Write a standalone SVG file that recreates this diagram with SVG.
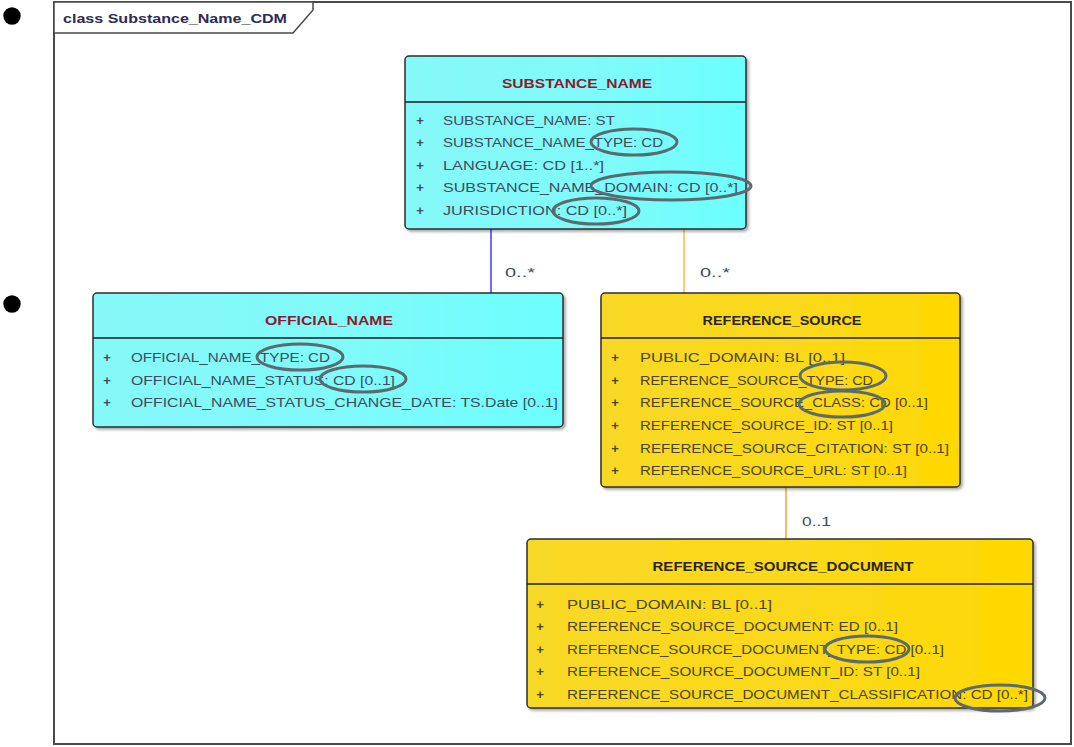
<svg xmlns="http://www.w3.org/2000/svg" width="1074" height="747" viewBox="0 0 1074 747">
  <defs>
    <linearGradient id="cyanFill" x1="0" y1="0" x2="1" y2="0">
      <stop offset="0" stop-color="#86f8f8"/>
      <stop offset="0.55" stop-color="#80fafa"/>
      <stop offset="1" stop-color="#6cfefe"/>
    </linearGradient>
    <linearGradient id="goldFill" x1="0" y1="0" x2="1" y2="0">
      <stop offset="0" stop-color="#f8d826"/>
      <stop offset="0.55" stop-color="#fad91a"/>
      <stop offset="1" stop-color="#ffd800"/>
    </linearGradient>
    <filter id="shadow" x="-5%" y="-5%" width="112%" height="115%">
      <feDropShadow dx="2" dy="2" stdDeviation="1.6" flood-color="#000" flood-opacity="0.35"/>
    </filter>
  </defs>
  <style>
    .frame { fill: none; stroke: #4a4a4a; stroke-width: 2; }
    .tab { fill: #ffffff; stroke: #4a4a4a; stroke-width: 1.5; }
    .tabtext { font-family: "Liberation Sans", Arial, sans-serif; font-size: 13px; fill: #2b2b55; font-weight: bold; }
    .box { stroke: #2e2e2e; stroke-width: 1.5; filter: url(#shadow); }
    .cyan { fill: url(#cyanFill); }
    .gold { fill: url(#goldFill); }
    .sep { stroke: #1e1e1e; stroke-width: 1.5; }
    .title { font-family: "Liberation Sans", Arial, sans-serif; font-size: 13px; font-weight: bold; text-anchor: middle; }
    .title.c { fill: #8a1c30; }
    .title.g { fill: #2a2410; }
    .attr { font-family: "Liberation Sans", Arial, sans-serif; font-size: 13px; }
    .attr.c { fill: #3d4c5e; }
    .attr.g { fill: #4a4422; }
    .plus { font-family: "Liberation Sans", Arial, sans-serif; font-size: 13px; text-anchor: middle; font-weight: bold; }
    .mark { fill: none; stroke: #5a6b70; stroke-width: 3; }
    .mult { font-family: "Liberation Sans", Arial, sans-serif; font-size: 13px; fill: #3d4c5e; }
    .bullet { fill: #000000; }
  </style>

  <!-- page bullets -->
  <circle class="bullet" cx="12" cy="16" r="8.7"/>
  <circle class="bullet" cx="12" cy="304" r="8.7"/>

  <!-- diagram frame with name tab -->
  <g id="frame">
    <rect class="frame" x="54" y="2" width="1017" height="742"/>
    <path class="tab" d="M54,2 H313 V10 L293,33 H54 Z"/>
    <text class="tabtext" x="63" y="23" textLength="224" lengthAdjust="spacingAndGlyphs">class Substance_Name_CDM</text>
  </g>

  <!-- associations -->
  <g id="connectors">
    <line x1="491" y1="229" x2="491" y2="293" stroke="#3b3bff" stroke-width="1.5"/>
    <line x1="684" y1="229" x2="684" y2="293" stroke="#ffb845" stroke-width="1.5"/>
    <line x1="786" y1="487" x2="786" y2="539" stroke="#f0a830" stroke-width="1.5"/>
    <text class="mult" x="505" y="277" textLength="30" lengthAdjust="spacingAndGlyphs">0..*</text>
    <text class="mult" x="700" y="277" textLength="30" lengthAdjust="spacingAndGlyphs">0..*</text>
    <text class="mult" x="802" y="526" textLength="29" lengthAdjust="spacingAndGlyphs">0..1</text>
  </g>

  <!-- SUBSTANCE_NAME -->
  <g id="substance_name">
    <rect class="box cyan" x="405" y="56" width="341" height="173" rx="4"/>
    <line class="sep" x1="405" y1="102" x2="746" y2="102"/>
    <text class="title c" x="577" y="88" textLength="150" lengthAdjust="spacingAndGlyphs">SUBSTANCE_NAME</text>
    <g class="plus" fill="#3d4c5e">
      <text x="420" y="124.5">+</text>
      <text x="420" y="147">+</text>
      <text x="420" y="169.5">+</text>
      <text x="420" y="192">+</text>
      <text x="420" y="214.5">+</text>
    </g>
    <text class="attr c" x="443" y="124.5" textLength="172" lengthAdjust="spacingAndGlyphs">SUBSTANCE_NAME: ST</text>
    <text class="attr c" x="443" y="147" textLength="220" lengthAdjust="spacingAndGlyphs">SUBSTANCE_NAME_TYPE: CD</text>
    <text class="attr c" x="443" y="169.5" textLength="161" lengthAdjust="spacingAndGlyphs">LANGUAGE: CD [1..*]</text>
    <text class="attr c" x="443" y="192" textLength="295" lengthAdjust="spacingAndGlyphs">SUBSTANCE_NAME_DOMAIN: CD [0..*]</text>
    <text class="attr c" x="443" y="214.5" textLength="184" lengthAdjust="spacingAndGlyphs">JURISDICTION: CD [0..*]</text>
    <ellipse class="mark" cx="634" cy="142" rx="43" ry="13"/>
    <ellipse class="mark" cx="671" cy="186" rx="80" ry="14"/>
    <ellipse class="mark" cx="596" cy="211" rx="43" ry="13"/>
  </g>

  <!-- OFFICIAL_NAME -->
  <g id="official_name">
    <rect class="box cyan" x="93" y="293" width="470" height="134" rx="4"/>
    <line class="sep" x1="93" y1="338" x2="563" y2="338"/>
    <text class="title c" x="329" y="325" textLength="128" lengthAdjust="spacingAndGlyphs">OFFICIAL_NAME</text>
    <g class="plus" fill="#3d4c5e">
      <text x="107" y="362">+</text>
      <text x="107" y="384.5">+</text>
      <text x="107" y="407">+</text>
    </g>
    <text class="attr c" x="131" y="362" textLength="199" lengthAdjust="spacingAndGlyphs">OFFICIAL_NAME_TYPE: CD</text>
    <text class="attr c" x="131" y="384.5" textLength="264" lengthAdjust="spacingAndGlyphs">OFFICIAL_NAME_STATUS: CD [0..1]</text>
    <text class="attr c" x="131" y="407" textLength="427" lengthAdjust="spacingAndGlyphs">OFFICIAL_NAME_STATUS_CHANGE_DATE: TS.Date [0..1]</text>
    <ellipse class="mark" cx="300" cy="357" rx="43" ry="13"/>
    <ellipse class="mark" cx="363" cy="379" rx="43" ry="13"/>
  </g>

  <!-- REFERENCE_SOURCE -->
  <g id="reference_source">
    <rect class="box gold" x="601" y="293" width="359" height="194" rx="4"/>
    <line class="sep" x1="601" y1="338" x2="960" y2="338"/>
    <text class="title g" x="782" y="325" textLength="159" lengthAdjust="spacingAndGlyphs">REFERENCE_SOURCE</text>
    <g class="plus" fill="#4a4422">
      <text x="615" y="361.5">+</text>
      <text x="615" y="384.5">+</text>
      <text x="615" y="407">+</text>
      <text x="615" y="430">+</text>
      <text x="615" y="452.5">+</text>
      <text x="615" y="475">+</text>
    </g>
    <text class="attr g" x="640" y="361.5" textLength="205" lengthAdjust="spacingAndGlyphs">PUBLIC_DOMAIN: BL [0..1]</text>
    <text class="attr g" x="640" y="384.5" textLength="233" lengthAdjust="spacingAndGlyphs">REFERENCE_SOURCE_TYPE: CD</text>
    <text class="attr g" x="640" y="407" textLength="288" lengthAdjust="spacingAndGlyphs">REFERENCE_SOURCE_CLASS: CD [0..1]</text>
    <text class="attr g" x="640" y="430" textLength="253" lengthAdjust="spacingAndGlyphs">REFERENCE_SOURCE_ID: ST [0..1]</text>
    <text class="attr g" x="640" y="452.5" textLength="309" lengthAdjust="spacingAndGlyphs">REFERENCE_SOURCE_CITATION: ST [0..1]</text>
    <text class="attr g" x="640" y="475" textLength="267" lengthAdjust="spacingAndGlyphs">REFERENCE_SOURCE_URL: ST [0..1]</text>
    <ellipse class="mark" cx="843" cy="376" rx="43" ry="14"/>
    <ellipse class="mark" cx="842" cy="404" rx="43" ry="13"/>
  </g>

  <!-- REFERENCE_SOURCE_DOCUMENT -->
  <g id="reference_source_document">
    <rect class="box gold" x="527" y="539" width="506" height="169" rx="4"/>
    <line class="sep" x1="527" y1="584" x2="1033" y2="584"/>
    <text class="title g" x="783" y="571" textLength="261" lengthAdjust="spacingAndGlyphs">REFERENCE_SOURCE_DOCUMENT</text>
    <g class="plus" fill="#4a4422">
      <text x="540" y="608.5">+</text>
      <text x="540" y="631">+</text>
      <text x="540" y="653.5">+</text>
      <text x="540" y="676">+</text>
      <text x="540" y="698.5">+</text>
    </g>
    <text class="attr g" x="567" y="608.5" textLength="205" lengthAdjust="spacingAndGlyphs">PUBLIC_DOMAIN: BL [0..1]</text>
    <text class="attr g" x="567" y="631" textLength="331" lengthAdjust="spacingAndGlyphs">REFERENCE_SOURCE_DOCUMENT: ED [0..1]</text>
    <text class="attr g" x="567" y="653.5" textLength="377" lengthAdjust="spacingAndGlyphs">REFERENCE_SOURCE_DOCUMENT_TYPE: CD [0..1]</text>
    <text class="attr g" x="567" y="676" textLength="353" lengthAdjust="spacingAndGlyphs">REFERENCE_SOURCE_DOCUMENT_ID: ST [0..1]</text>
    <text class="attr g" x="567" y="698.5" textLength="461" lengthAdjust="spacingAndGlyphs">REFERENCE_SOURCE_DOCUMENT_CLASSIFICATION: CD [0..*]</text>
    <ellipse class="mark" cx="867" cy="649" rx="42" ry="13"/>
    <ellipse class="mark" cx="1000" cy="698" rx="45" ry="13"/>
  </g>
</svg>
